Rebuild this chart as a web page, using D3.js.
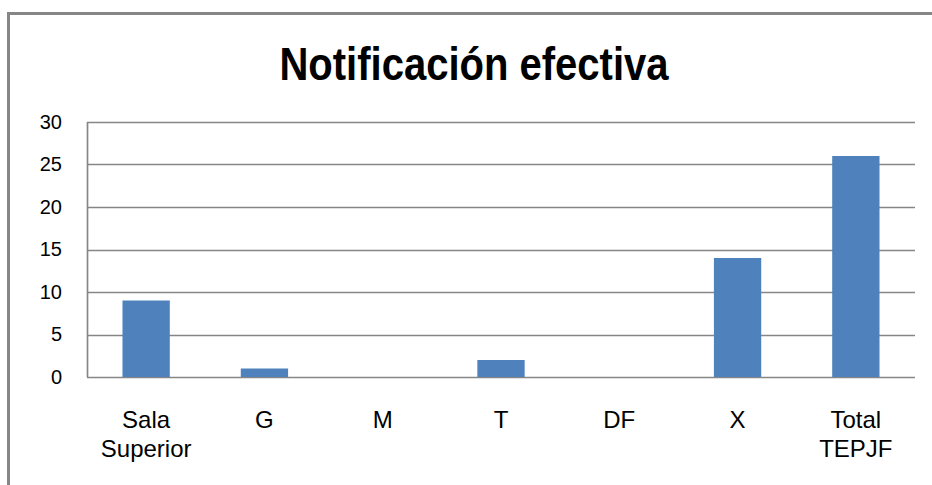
<!DOCTYPE html>
<html>
<head>
<meta charset="utf-8">
<script src="https://cdn.jsdelivr.net/npm/d3@7"></script>
<style>
  body { margin: 0; background: #fff; }
  svg { display: block; }
</style>
</head>
<body>
<div id="chart"></div>
<script>
// data
const categories = ["Sala Superior", "G", "M", "T", "DF", "X", "Total TEPJF"];
const values = [9, 1, 0, 2, 0, 14, 26];
const yTicks = [0, 5, 10, 15, 20, 25, 30];
const title = "Notificación efectiva";

const W = 932, H = 485;
const margin = { top: 122, right: 17, bottom: 108, left: 87 },
    width = W - margin.left - margin.right,
    height = H - margin.top - margin.bottom;

const font = "'Liberation Sans', Arial, sans-serif";

const root = d3.select("#chart")
    .append("svg")
    .attr("width", W)
    .attr("height", H);

// outer frame (cut off at right and bottom)
root.append("rect")
    .attr("x", 8.5)
    .attr("y", 13.5)
    .attr("width", W + 20)
    .attr("height", H + 20)
    .attr("fill", "none")
    .attr("stroke", "#868686")
    .attr("stroke-width", 3);

// title, squeezed a little to mimic the narrow original face
root.append("text")
    .attr("transform", "translate(474,80) scale(0.87,1)")
    .attr("text-anchor", "middle")
    .attr("style", `fill: #000; font-size: 46px; font-weight: bold; font-family: ${font}`)
    .text(title);

const svg = root.append("g")
    .attr("transform", `translate(${margin.left},${margin.top})`);

const x = d3.scaleBand()
    .domain(categories)
    .range([0, width])
    .paddingInner(0.6)
    .paddingOuter(0.3);

const y = d3.scaleLinear()
    .domain([0, 30])
    .range([height, 0]);

// gridlines
svg.append("g")
    .selectAll("line")
    .data(yTicks)
    .join("line")
    .attr("x1", 0)
    .attr("x2", width)
    .attr("y1", d => Math.round(y(d)) + 0.5)
    .attr("y2", d => Math.round(y(d)) + 0.5)
    .attr("stroke", "#868686")
    .attr("stroke-width", 1.7);

// y axis line
svg.append("line")
    .attr("x1", 0.5).attr("x2", 0.5)
    .attr("y1", 0).attr("y2", height)
    .attr("stroke", "#868686")
    .attr("stroke-width", 1.7);

// y tick labels
const yAxis = svg.append("g")
    .call(d3.axisLeft(y).tickValues(yTicks).tickSize(0).tickPadding(25));
yAxis.select(".domain").remove();
yAxis.selectAll("text")
    .attr("style", `fill: #000; font-size: 20px; font-family: ${font}`);

// bars
svg.selectAll("rect.bar")
    .data(values)
    .join("rect")
    .attr("class", "bar")
    .attr("x", (d, i) => x(categories[i]))
    .attr("y", d => y(d))
    .attr("width", x.bandwidth())
    .attr("height", d => height - y(d))
    .attr("fill", "#4f81bd");

// x labels, wrapped on spaces
const xl = svg.append("g")
    .selectAll("text")
    .data(categories)
    .join("text")
    .attr("x", d => x(d) + x.bandwidth() / 2)
    .attr("y", height + 51)
    .attr("text-anchor", "middle")
    .attr("style", `fill: #000; font-size: 24px; font-family: ${font}`);
xl.each(function (d) {
    const words = d.split(" ");
    const t = d3.select(this);
    words.forEach((w, i) => {
        t.append("tspan")
            .attr("x", x(d) + x.bandwidth() / 2)
            .attr("dy", i === 0 ? 0 : 29)
            .text(w);
    });
});
</script>
</body>
</html>
